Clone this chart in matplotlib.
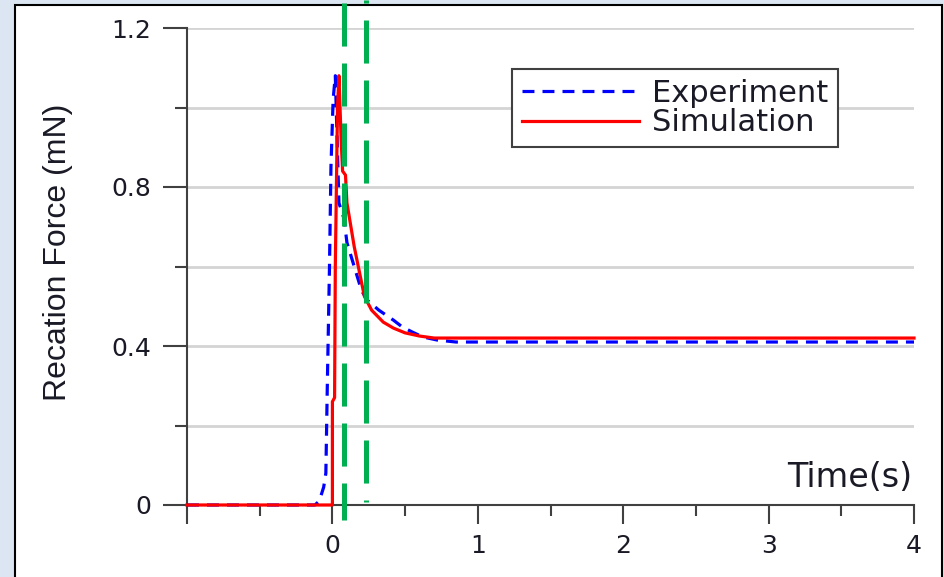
import numpy as np
import matplotlib
matplotlib.use("Agg")
import matplotlib.pyplot as plt
from matplotlib.patches import Rectangle

# values
t_exp = [-1.0, -0.12, -0.09, -0.06, -0.045, -0.035, -0.02, -0.01, 0.005, 0.02, 0.03,
         0.045, 0.08, 0.10, 0.15, 0.20, 0.24, 0.32, 0.42, 0.48, 0.55, 0.62, 0.72,
         0.85, 1.5, 2.5, 4.0]
f_exp = [0.0, 0.0, 0.01, 0.045, 0.08, 0.30, 0.60, 0.85, 1.02, 1.08, 0.95,
         0.76, 0.72, 0.66, 0.60, 0.54, 0.515, 0.49, 0.465, 0.448, 0.435, 0.423, 0.415,
         0.41, 0.41, 0.41, 0.41]

t_sim = [-1.0, 0.0, 0.0, 0.015, 0.02, 0.035, 0.045, 0.06, 0.07, 0.09, 0.10, 0.15,
         0.22, 0.27, 0.35, 0.42, 0.50, 0.60, 0.70, 1.0, 2.0, 3.0, 4.0]
f_sim = [0.0, 0.0, 0.26, 0.27, 0.60, 1.00, 1.08, 0.92, 0.84, 0.83, 0.76, 0.65,
         0.525, 0.49, 0.46, 0.445, 0.433, 0.425, 0.42, 0.42, 0.42, 0.42, 0.42]

x_ticks = [-1, 0, 1, 2, 3, 4]
x_labels = ["", "0", "1", "2", "3", "4"]
x_minor = [-0.5, 0.5, 1.5, 2.5, 3.5]
y_ticks = [0, 0.4, 0.8, 1.2]
y_labels = ["0", "0.4", "0.8", "1.2"]
y_minor = [0.2, 0.6, 1.0]

# green marker lines drawn over the chart (time, top, bottom)
marker_times = [0.083, 0.228]
marker_tops = [1.263, 1.271]
marker_bottoms = [-0.038, 0.008]
marker_offsets = [0, 28.8]

plt.rcParams["lines.scale_dashes"] = False
text_col = "#1a1a26"

fig = plt.figure(figsize=(9.44, 5.77), dpi=100, facecolor="#dce6f2")
panel = Rectangle((15 / 944, -0.02), (942 - 15) / 944, (577 - 5) / 577 + 0.02,
                  transform=fig.transFigure, facecolor="white", edgecolor="black",
                  lw=1.5, zorder=-10)
fig.patches.append(panel)

ax = fig.add_axes([187 / 944, 72 / 577, 727 / 944, 477 / 577])
ax.set_facecolor("white")
ax.set_xlim(-1, 4)
ax.set_ylim(0, 1.2)

ax.set_xticks(x_ticks)
ax.set_xticklabels(x_labels)
ax.set_xticks(x_minor, minor=True)
ax.set_yticks(y_ticks)
ax.set_yticklabels(y_labels)
ax.set_yticks(y_minor, minor=True)

ax.grid(axis="y", which="both", color="#d4d4d4", lw=2)
ax.set_axisbelow(True)

for s in ["top", "right"]:
    ax.spines[s].set_visible(False)
for s in ["left", "bottom"]:
    ax.spines[s].set_color("#404040")
    ax.spines[s].set_linewidth(1.5)

ax.tick_params(axis="x", which="major", direction="out", length=14, width=1.5,
               color="#404040", pad=7, labelsize=18, labelcolor=text_col)
ax.tick_params(axis="x", which="minor", direction="out", length=8, width=1.5,
               color="#404040")
ax.tick_params(axis="y", which="major", direction="out", length=17, width=1.5,
               color="#404040", pad=9, labelsize=18, labelcolor=text_col)
ax.tick_params(axis="y", which="minor", direction="out", length=8.5, width=1.5,
               color="#404040")

ax.plot(t_exp, f_exp, color="#0000ff", lw=2.3, linestyle=(0, (8.6, 5.8)),
        label="Experiment", clip_on=False, zorder=3)
ax.plot(t_sim, f_sim, color="#ff0000", lw=2.3, label="Simulation",
        clip_on=False, zorder=4)

for t, top, bot, off in zip(marker_times, marker_tops, marker_bottoms, marker_offsets):
    ax.plot([t, t], [top, bot], color="#00b050", lw=3.6,
            linestyle=(off, (31, 12.2)), clip_on=False, zorder=10)

leg = ax.legend(loc="upper left", bbox_to_anchor=((512 - 187) / 727, (505 - 69) / 477),
                borderaxespad=0, frameon=True, fancybox=False, edgecolor="#404040",
                framealpha=1, prop={"family": "DejaVu Sans", "size": 22},
                handlelength=3.85, handletextpad=0.4, labelspacing=0.02, borderpad=0.32)
leg.get_frame().set_linewidth(1.5)
for txt in leg.get_texts():
    txt.set_color(text_col)

ax.text(3.99, 0.045, "Time(s)", ha="right", va="baseline", fontsize=24, color=text_col)

fig.text(58 / 944, 1 - 252 / 577, "Recation Force (mN)", rotation=90, ha="center",
         va="center", fontsize=23, family="Liberation Sans", color=text_col)

fig.savefig("out.png", dpi=100, facecolor=fig.get_facecolor())
